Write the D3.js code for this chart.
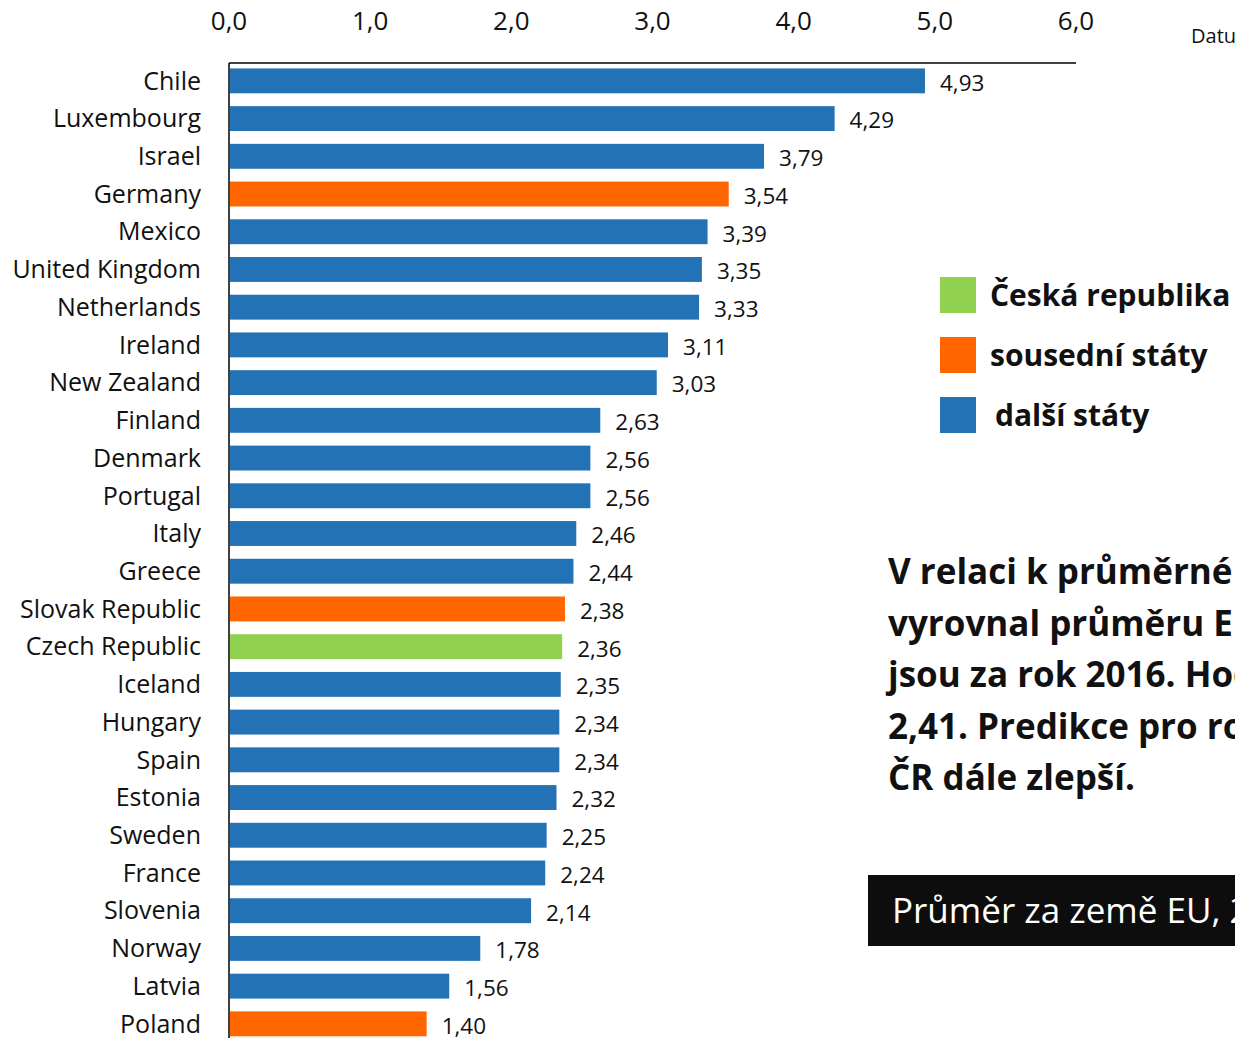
<!DOCTYPE html>
<html>
<head>
<meta charset="utf-8">
<script src="https://cdn.jsdelivr.net/npm/d3@7"></script>
<style>
  html, body { margin: 0; padding: 0; overflow: hidden; background: #fff; }
  svg { display: block; font-family: "Open Sans", sans-serif; }
</style>
</head>
<body>
<svg id="chart"></svg>
<script>
const width = 1235;
const height = 1038;

const countries = [
    "Chile", "Luxembourg", "Israel", "Germany", "Mexico", "United Kingdom",
    "Netherlands", "Ireland", "New Zealand", "Finland", "Denmark", "Portugal",
    "Italy", "Greece", "Slovak Republic", "Czech Republic", "Iceland", "Hungary",
    "Spain", "Estonia", "Sweden", "France", "Slovenia", "Norway", "Latvia", "Poland",
];
const values = [
    4.93, 4.29, 3.79, 3.54, 3.39, 3.35, 3.33, 3.11, 3.03, 2.63, 2.56, 2.56,
    2.46, 2.44, 2.38, 2.36, 2.35, 2.34, 2.34, 2.32, 2.25, 2.24, 2.14, 1.78, 1.56, 1.40,
];
// group: 0 = Česká republika, 1 = sousední státy, 2 = další státy
const groups = [
    2, 2, 2, 1, 2, 2, 2, 2, 2, 2, 2, 2,
    2, 2, 1, 0, 2, 2, 2, 2, 2, 2, 2, 2, 2, 1,
];
const legendLabels = ["Česká republika", "sousední státy", "další státy"];
const groupColors = ["#92d050", "#ff6600", "#2372b6"];
const xTicks = [0, 1, 2, 3, 4, 5, 6];
const noteLines = [
    "V relaci k průměrné mzdě",
    "vyrovnal průměru EU",
    "jsou za rok 2016. Hodnota",
    "2,41. Predikce pro rok",
    "ČR dále zlepší.",
];
const boxText = "Průměr za země EU, 2,41";

const data = countries.map((c, i) => ({ name: c, value: values[i], group: groups[i] }));
const fmt = (v, n) => v.toFixed(n).replace(".", ",");

const svg = d3.select("#chart").attr("width", width).attr("height", height);

const x = d3.scaleLinear().domain([0, 6]).range([229, 1076]);
const y = d3.scaleBand()
    .domain(countries)
    .range([62, 62 + 37.72 * countries.length])
    .paddingInner(0.34)
    .paddingOuter(0.17);

// axis line on top
svg.append("line")
    .attr("x1", x(0)).attr("x2", x(6))
    .attr("y1", 63).attr("y2", 63)
    .attr("stroke", "#000").attr("stroke-width", 1.5);
svg.append("line")
    .attr("x1", x(0)).attr("x2", x(0))
    .attr("y1", 63).attr("y2", height)
    .attr("stroke", "#000").attr("stroke-width", 1.5);

svg.append("g")
    .selectAll("text")
    .data(xTicks)
    .join("text")
    .attr("x", (d) => x(d))
    .attr("y", 30)
    .attr("text-anchor", "middle")
    .attr("font-size", 26)
    .attr("fill", "#111")
    .text((d) => fmt(d, 1));

// bars
svg.append("g")
    .selectAll("rect")
    .data(data)
    .join("rect")
    .attr("x", x(0) + 1)
    .attr("y", (d) => y(d.name))
    .attr("width", (d) => x(d.value) - x(0) - 1)
    .attr("height", y.bandwidth())
    .attr("fill", (d) => groupColors[d.group]);

// country labels
svg.append("g")
    .selectAll("text")
    .data(data)
    .join("text")
    .attr("x", 201)
    .attr("y", (d) => y(d.name) + y.bandwidth() / 2)
    .attr("dy", "0.35em")
    .attr("text-anchor", "end")
    .attr("font-size", 25)
    .attr("fill", "#111")
    .text((d) => d.name);

// value labels
svg.append("g")
    .selectAll("text")
    .data(data)
    .join("text")
    .attr("x", (d) => x(d.value) + 15)
    .attr("y", (d) => y(d.name) + y.bandwidth() / 2 + 2)
    .attr("dy", "0.35em")
    .attr("font-size", 22.5)
    .attr("fill", "#111")
    .text((d) => fmt(d.value, 2));

// legend
const legend = svg.append("g")
    .selectAll("g")
    .data(legendLabels)
    .join("g")
    .attr("transform", (d, i) => `translate(940, ${277 + i * 60})`);
legend.append("rect")
    .attr("width", 36).attr("height", 36)
    .attr("fill", (d, i) => groupColors[i]);
legend.append("text")
    .attr("x", (d, i) => (i === 2 ? 55 : 50))
    .attr("y", 18)
    .attr("dy", "0.35em")
    .attr("font-size", 30)
    .attr("font-weight", "bold")
    .attr("fill", "#111")
    .text((d) => d);

// note
svg.append("g")
    .selectAll("text")
    .data(noteLines)
    .join("text")
    .attr("x", 888)
    .attr("y", (d, i) => 584 + i * 51.5)
    .attr("font-size", 35)
    .attr("font-weight", "bold")
    .attr("fill", "#111")
    .text((d) => d);

// black box
svg.append("rect")
    .attr("x", 868).attr("y", 875)
    .attr("width", 400).attr("height", 71)
    .attr("fill", "#0d0d0d");
svg.append("text")
    .attr("x", 892).attr("y", 923)
    .attr("font-size", 35)
    .attr("fill", "#fff")
    .text(boxText);

svg.append("text")
    .attr("x", 1191).attr("y", 43)
    .attr("font-size", 20)
    .attr("fill", "#111")
    .text("Datum");
</script>
</body>
</html>
